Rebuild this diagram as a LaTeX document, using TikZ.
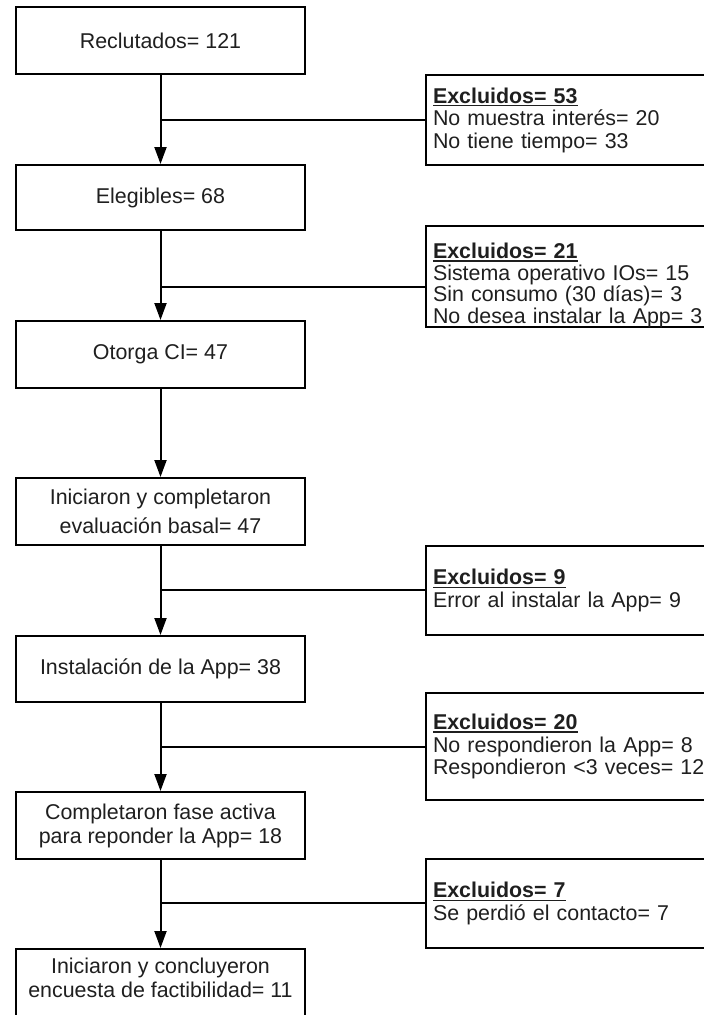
\documentclass[tikz,border=0pt]{standalone}
\usepackage{fontspec}
\setmainfont{Liberation Sans}
\usetikzlibrary{arrows.meta}
% bold heading with a heavier underline
\newcommand\exhead[1]{\setbox0\hbox{\textbf{#1}}%
  \rlap{\raisebox{-3.4pt}{\rule{\wd0}{1.6pt}}}\box0}
\begin{document}
\begin{tikzpicture}[x=1pt,y=-1pt,
  stage/.style={draw, line width=2pt, minimum width=289pt, minimum height=67pt,
    inner sep=0pt, align=center, text=black!88,
    font=\fontsize{21.4}{24}\selectfont},
  excl/.style={draw, line width=2pt, anchor=west, text width=281pt,
    inner xsep=7pt, inner ysep=0pt, align=left, text=black!88,
    font=\fontsize{21.4}{22.5}\selectfont},
  flow/.style={line width=2pt, -{Triangle[length=17pt,width=12pt]}},
  branch/.style={line width=2pt}]

% page frame
\fill[white] (0,0) rectangle (704,1015);
\useasboundingbox (0,0) rectangle (704,1015);

% main sequence of stages
\node[stage] (b1) at (160.5,40.5)  {Reclutados= 121};
\node[stage, minimum height=65pt] (b2) at (160.5,197.5) {Elegibles= 68};
\node[stage] (b3) at (160.5,354.5) {Otorga CI= 47};
\node[stage, font=\fontsize{21.4}{29}\selectfont] (b4) at (160.5,511.5)
  {Iniciaron y completaron\\evaluación basal= 47};
\node[stage, minimum height=66pt] (b5) at (160.5,669) {Instalación de la App= 38};
\node[stage] (b6) at (160.5,825.5) {Completaron fase activa\\para reponder la App= 18};
\node[stage, anchor=north, minimum height=72pt, text depth=14pt] (b7) at (160.5,948)
  {Iniciaron y concluyeron\\encuesta de factibilidad= 11};

% exclusion boxes
\node[excl, minimum height=90pt] (e1) at (425,120)
  {\exhead{Excluidos= 53}\\No muestra interés= 20\\No tiene tiempo= 33};
\node[excl, minimum height=89pt, font=\fontsize{21.4}{21.5}\selectfont] (e2) at (425,276.5)
  {\rule{0pt}{33pt}\exhead{Excluidos= 21}\\Sistema operativo IOs= 15\\Sin consumo (30 días)= 3\\No desea instalar la App= 3};
\node[excl, minimum height=89pt] (e3) at (425,590.5)
  {\exhead{Excluidos= 9}\\Error al instalar la App= 9};
\node[excl, minimum height=107pt] (e4) at (425,746.5)
  {\exhead{Excluidos= 20}\\No respondieron la App= 8\\Respondieron <3 veces= 12};
\node[excl, minimum height=89pt] (e5) at (425,903.5)
  {\exhead{Excluidos= 7}\\Se perdió el contacto= 7};

% branch points on the trunk
\coordinate (j1) at (160.5,120);
\coordinate (j2) at (160.5,287);
\coordinate (j3) at (160.5,590);
\coordinate (j4) at (160.5,747);
\coordinate (j5) at (160.5,903);

% trunk arrows
\draw[flow] (b1.south) -- (b2.north);
\draw[flow] (b2.south) -- (b3.north);
\draw[flow] (b3.south) -- (b4.north);
\draw[flow] (b4.south) -- (b5.north);
\draw[flow] (b5.south) -- (b6.north);
\draw[flow] (b6.south) -- (b7.north);

% branches to the exclusion boxes
\draw[branch] (j1) -- (j1 -| e1.west);
\draw[branch] (j2) -- (j2 -| e2.west);
\draw[branch] (j3) -- (j3 -| e3.west);
\draw[branch] (j4) -- (j4 -| e4.west);
\draw[branch] (j5) -- (j5 -| e5.west);
\end{tikzpicture}
\end{document}
